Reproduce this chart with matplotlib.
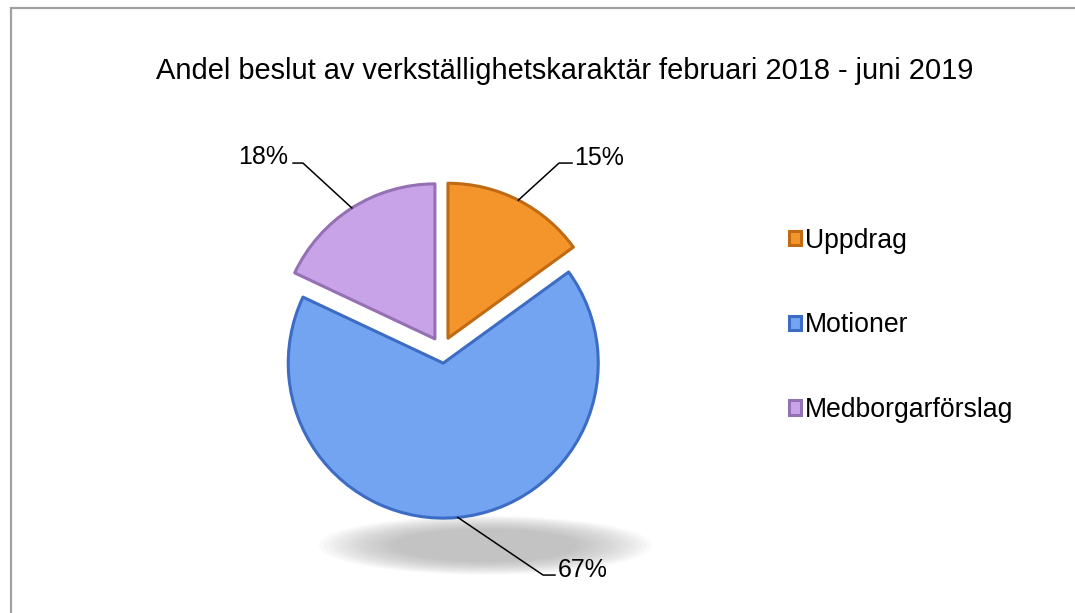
import numpy as np
import matplotlib
matplotlib.use('Agg')
import matplotlib.pyplot as plt
from matplotlib.patches import Ellipse, Rectangle

# Data
categories = ["Uppdrag", "Motioner", "Medborgarförslag"]
shares = [15, 67, 18]
pct_labels = ["15%", "67%", "18%"]

colors = ["#F4952C", "#72A4F2", "#C9A3E8"]
edge_colors = ["#C06A14", "#3D6CC4", "#9470B4"]

plt.rcParams['font.family'] = ['Liberation Sans', 'DejaVu Sans']

W, H = 1075, 613
fig = plt.figure(figsize=(W / 100, H / 100), dpi=100)
fig.patch.set_facecolor('white')

# gray frame (only top and left visible in the crop)
fig.patches.append(Rectangle((10.5 / W, -0.05), 1.2, 1 - 8.5 / H + 0.05, transform=fig.transFigure,
                             fill=False, edgecolor='#A0A0A0', linewidth=1.6))

# pie axes: centre at (442, 350) px, radius 155 px
k = 1.6
r_px = 155
cx, cy = 442, H - 350
half = k * r_px
ax = fig.add_axes([(cx - half) / W, (cy - half) / H, 2 * half / W, 2 * half / H])

# soft shadow under the pie
for i in range(16):
    s = 1 - i * 0.03
    ax.add_patch(Ellipse((0.28, -1.26), 2.15 * s, 0.38 * s, facecolor='#a0a0a0',
                         edgecolor='none', alpha=0.05, zorder=0, clip_on=False))

explode = [0.085, 0.085, 0.085]
wedges, _ = ax.pie(shares, colors=colors, startangle=90, counterclock=False,
                   explode=explode, radius=1.0,
                   wedgeprops=dict(linewidth=2.2, joinstyle='round'))
for w, ec in zip(wedges, edge_colors):
    w.set_edgecolor(ec)
    w.set_zorder(2)

# pie() sets its own limits, so fix them afterwards
ax.set_xlim(-k, k)
ax.set_ylim(-k, k)
ax.set_aspect('equal')
ax.axis('off')

# leader lines and percent labels
label_pos = {
    "15%": ((0.755, 1.206), (0.839, 1.206), (0.85, 1.24), 'left'),
    "67%": ((0.652, -1.452), (0.729, -1.452), (0.745, -1.42), 'left'),
    "18%": ((-0.897, 1.206), (-0.961, 1.206), (-0.99, 1.245), 'right'),
}
for w, lab in zip(wedges, pct_labels):
    mid = np.deg2rad((w.theta1 + w.theta2) / 2)
    ex, ey = w.center
    px = ex + w.r * np.cos(mid)
    py = ey + w.r * np.sin(mid)
    elbow, end, tpos, ha = label_pos[lab]
    ax.plot([px, elbow[0], end[0]], [py, elbow[1], end[1]], color='black', linewidth=1.1,
            zorder=3, clip_on=False)
    ax.text(tpos[0], tpos[1], lab, ha=ha, va='center', fontsize=18, clip_on=False)

fig.text(565 / W, 1 - 71 / H, "Andel beslut av verkställighetskaraktär februari 2018 - juni 2019",
         ha='center', va='center', fontsize=20.9)

fig.legend(wedges, categories, loc='upper left', bbox_to_anchor=(778 / W, 1 - 217 / H),
           frameon=False, fontsize=19.2, handlelength=0.45, handleheight=0.45,
           handletextpad=0.15, labelspacing=2.2, borderaxespad=0)

fig.savefig('out.png', dpi=100, facecolor='white')
plt.close()
